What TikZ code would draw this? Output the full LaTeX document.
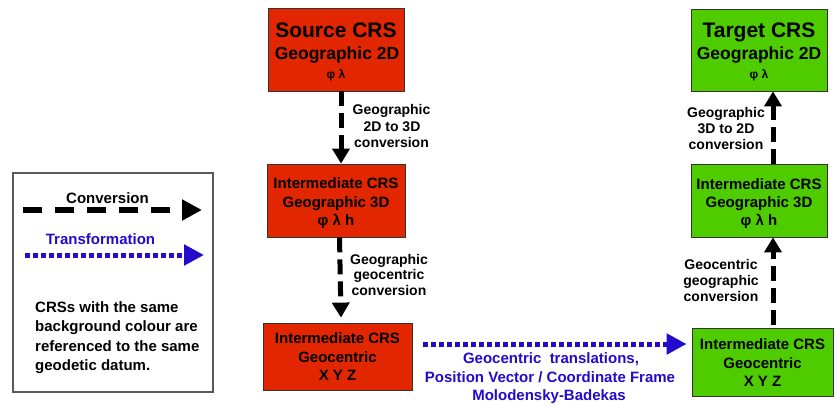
\documentclass[tikz,border=0pt]{standalone}
\usepackage{fontspec}
\setmainfont{Liberation Sans}
\usetikzlibrary{arrows.meta}
\definecolor{crsred}{RGB}{226,38,0}
\definecolor{crsgreen}{RGB}{78,204,0}
\definecolor{trblue}{RGB}{36,10,204}
\begin{document}
\begin{tikzpicture}[x=1pt,y=-1pt,
  box/.style={draw=black!80,line width=0.8pt,inner sep=0pt},
  redbox/.style={box,fill=crsred},
  greenbox/.style={box,fill=crsgreen},
  tx/.style={anchor=base,inner sep=0pt},
  big/.style={tx,font=\fontsize{21}{25}\selectfont\bfseries},
  mid/.style={tx,font=\fontsize{17.5}{20}\selectfont\bfseries},
  med/.style={tx,font=\fontsize{15}{18}\selectfont\bfseries},
  sml/.style={tx,font=\fontsize{12}{14}\selectfont\bfseries},
  lab/.style={tx,font=\fontsize{14}{16}\selectfont\bfseries},
  conv/.style={line width=5pt,dash pattern=on 15pt off 7pt,-{Triangle[width=17pt,length=15pt]}},
  legconv/.style={line width=6pt,dash pattern=on 19pt off 13pt,-{Triangle[width=20pt,length=20pt]}},
  transf/.style={draw=trblue,line width=5pt,dash pattern=on 5pt off 3pt,-{Triangle[width=20pt,length=20pt,fill=trblue]}}
]
\useasboundingbox (0,0) rectangle (834,405);
\fill[white] (0,0) rectangle (834,405);

% ---------- boxes ----------
\node[redbox,minimum width=136pt,minimum height=83pt] (src) at (336,49.5) {};
\node[redbox,minimum width=138pt,minimum height=73pt] (r3d) at (336,200.5) {};
\node[redbox,minimum width=149pt,minimum height=67pt] (rgeo) at (337.5,356.5) {};
\node[greenbox,minimum width=136pt,minimum height=82pt] (tgt) at (759,50) {};
\node[greenbox,minimum width=136pt,minimum height=73pt] (g3d) at (759,200.5) {};
\node[greenbox,minimum width=141pt,minimum height=68pt] (ggeo) at (762.5,362) {};

% ---------- box texts ----------
\node[big] (src1) at (336,37) {Source CRS};
\node[mid] (src2) at (337,59) {Geographic 2D};
\node[sml] (src3) at (336,78) {φ λ};

\node[med] (r3d1) at (336,188.5) {Intermediate CRS};
\node[med] (r3d2) at (336,207) {Geographic 3D};
\node[med] (r3d3) at (336,225) {φ λ h};

\node[med] (rgeo1) at (337.5,343) {Intermediate CRS};
\node[med] (rgeo2) at (337.5,362) {Geocentric};
\node[med] (rgeo3) at (337.5,380) {X Y Z};

\node[big] (tgt1) at (759,37) {Target CRS};
\node[mid] (tgt2) at (759,59) {Geographic 2D};
\node[sml] (tgt3) at (759,78) {φ λ};

\node[med] (g3d1) at (759,189) {Intermediate CRS};
\node[med] (g3d2) at (759,207) {Geographic 3D};
\node[med] (g3d3) at (759,225) {φ λ h};

\node[med] (ggeo1) at (762.5,349) {Intermediate CRS};
\node[med] (ggeo2) at (762.5,368) {Geocentric};
\node[med] (ggeo3) at (762.5,386) {X Y Z};

% ---------- connectors ----------
\draw[conv] ([xshift=5pt]src.south) -- ([xshift=5pt]r3d.north);
\draw[conv] ([xshift=3.5pt]r3d.south) -- ([shift={(3.5,-5)}]rgeo.north);
\draw[conv] ([shift={(10.5,-3)}]ggeo.north) -- ([xshift=14pt]g3d.south);
\draw[conv] ([xshift=14pt]g3d.north) -- ([xshift=14pt]tgt.south);
\draw[transf] ([shift={(11,-12.5)}]rgeo.east) -- ([shift={(-5,-18)}]ggeo.west);

% ---------- connector labels ----------
\node[lab] (l1a) at (391.5,114) {Geographic};
\node[lab] (l1b) at (392,131) {2D to 3D};
\node[lab] (l1c) at (391.5,147) {conversion};

\node[lab] (l2a) at (389,264) {Geographic};
\node[lab] (l2b) at (389,279.5) {geocentric};
\node[lab] (l2c) at (389,295) {conversion};

\node[lab] (l3a) at (726,117) {Geographic};
\node[lab] (l3b) at (726,133.5) {3D to 2D};
\node[lab] (l3c) at (726,149) {conversion};

\node[lab] (l4a) at (721,269) {Geocentric};
\node[lab] (l4b) at (721,285) {geographic};
\node[lab] (l4c) at (721,301) {conversion};

\node[med,text=trblue] (l5a) at (551,363) {Geocentric~ translations,};
\node[med,text=trblue] (l5b) at (550,382) {Position Vector / Coordinate Frame};
\node[med,text=trblue] (l5c) at (549,400) {Molodensky-Badekas};

% ---------- legend ----------
\node[draw=black!65,line width=1.2pt,minimum width=200pt,minimum height=219pt,inner sep=0pt] (leg) at (113,282.5) {};
\node[med] (legc) at (107.5,203) {Conversion};
\coordinate (lc1) at (23,210);
\coordinate (lc2) at (202,210);
\draw[legconv] (lc1) -- (lc2);
\node[med,text=trblue] (legt) at (100.5,244) {Transformation};
\coordinate (lt1) at (25,255);
\coordinate (lt2) at (204,255);
\draw[transf] (lt1) -- (lt2);
\node[med,anchor=base west] (p1) at (35,312) {CRSs with the same};
\node[med,anchor=base west] (p2) at (35,331.5) {background colour are};
\node[med,anchor=base west] (p3) at (35,351) {referenced to the same};
\node[med,anchor=base west] (p4) at (35,370.5) {geodetic datum.};
\end{tikzpicture}
\end{document}
